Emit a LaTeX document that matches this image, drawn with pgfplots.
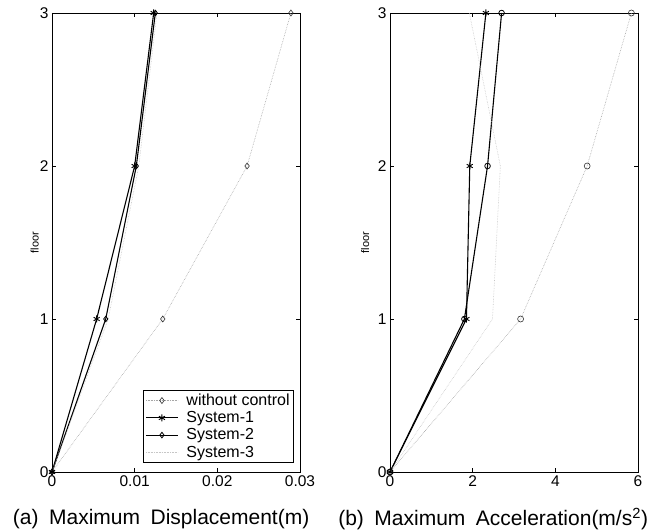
\documentclass[border=0pt]{standalone}
\usepackage{pgfplots}
\pgfplotsset{compat=1.18}
\usepackage{fontspec}
\setmainfont{Liberation Sans}
\begin{document}
\begin{tikzpicture}
\useasboundingbox (0pt,0pt) rectangle (657pt,531pt);
\pgfplotsset{
 myaxis/.style={
  scale only axis, width=248pt, height=459pt,
  ymin=0, ymax=3, ytick={0,1,2,3},
  tick align=inside, major tick length=4pt,
  every tick/.style={black, line width=0.6pt},
  ticklabel style={font=\fontsize{15.5}{15.5}\selectfont},
  /pgf/number format/assume math mode=true,
  axis line style={line width=0.9pt},
  ylabel={floor},
  ylabel style={font=\fontsize{11}{11}\selectfont, rotate=0},
  xlabel style={font=\fontsize{21}{21}\selectfont, anchor=center},
  clip=true,
 },
 wc/.style={densely dotted, gray!70, line width=0.6pt, mark options={solid, black!80, fill=white, line width=0.6pt}, mark size=3pt},
 s1/.style={black, line width=1.1pt, mark=asterisk, mark size=3.5pt, mark options={solid,line width=0.9pt}},
 s2/.style={black, line width=1.1pt, mark=o, mark size=2.8pt, mark options={solid,line width=0.8pt, fill=white}},
 s3/.style={densely dotted, gray!45, line width=0.6pt},
}
% Left panel
\begin{axis}[myaxis, at={(52pt,59pt)}, anchor=south west,
  xmin=0, xmax=0.03, xtick={0,0.01,0.02,0.03},
  xticklabels={0,0.01,0.02,0.03}, scaled x ticks=false,
  xlabel={(a)\enspace Maximum\enspace Displacement(m)},
  xlabel style={at={(axis description cs:0.44,0)}, yshift=-47pt},
  ylabel style={at={(axis description cs:-0.07,0.5)}, anchor=center},
  legend style={at={(axis description cs:0.976,0.0196)}, anchor=south east,
    font=\fontsize{16}{16}\selectfont, draw=black, line width=0.8pt,
    inner sep=2pt, row sep=0.5pt, column sep=6pt, cells={anchor=west}},
  legend image code/.code={\draw[mark repeat=2,mark phase=2,#1] plot coordinates {(0pt,0pt) (16pt,0pt) (32pt,0pt)};},
]
\addplot[wc, mark=diamond] coordinates {(0,0) (0.0134,1) (0.0236,2) (0.0289,3)};
\addlegendentry{without control}
\addplot[s1] coordinates {(0,0) (0.0054,1) (0.0100,2) (0.0123,3)};
\addlegendentry{System-1}
\addplot[s2, mark=diamond] coordinates {(0,0) (0.0065,1) (0.0102,2) (0.0125,3)};
\addlegendentry{System-2}
\addplot[s3] coordinates {(0,0) (0.0068,1) (0.0105,2) (0.0127,3)};
\addlegendentry{System-3}
\end{axis}
% Right panel
\begin{axis}[myaxis, at={(390pt,59pt)}, anchor=south west,
  xmin=0, xmax=6, xtick={0,2,4,6},
  xlabel={(b)\enspace Maximum\enspace Acceleration(m/s\textsuperscript{2})},
  xlabel style={at={(axis description cs:0.416,0)}, yshift=-47pt},
  ylabel style={at={(axis description cs:-0.1,0.5)}, anchor=center},
]
\addplot[wc, mark=o] coordinates {(0,0) (3.16,1) (4.77,2) (5.84,3)};
\addplot[s1] coordinates {(0,0) (1.85,1) (1.93,2) (2.32,3)};
\addplot[s2] coordinates {(0,0) (1.80,1) (2.36,2) (2.70,3)};
\addplot[s3] coordinates {(0,0) (2.48,1) (2.67,2) (1.92,3)};
\end{axis}
\end{tikzpicture}
\end{document}
